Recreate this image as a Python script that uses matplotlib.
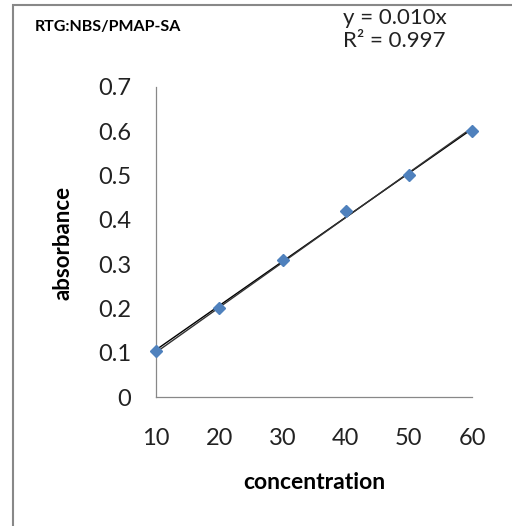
import matplotlib

matplotlib.use("Agg")

import matplotlib.pyplot as plt
import numpy as np
from matplotlib.patches import Rectangle


concentration = np.array([10, 20, 30, 40, 50, 60])
absorbance = np.array([0.105, 0.20, 0.31, 0.42, 0.50, 0.60])
x_ticks = [10, 20, 30, 40, 50, 60]
y_ticks = [0, 0.1, 0.2, 0.3, 0.4, 0.5, 0.6, 0.7]
y_tick_labels = ["0", "0.1", "0.2", "0.3", "0.4", "0.5", "0.6", "0.7"]

plt.rcParams["font.family"] = ["Lato", "DejaVu Sans"]

fig = plt.figure(figsize=(5.12, 5.26), dpi=100)
ax = fig.add_axes([0.305, 0.245, 0.617, 0.590])

# trendlines: free fit and forced through origin
slope, intercept = np.polyfit(concentration, absorbance, 1)
slope0 = np.sum(concentration * absorbance) / np.sum(concentration ** 2)
ax.plot(concentration, slope * concentration + intercept,
        color="black", linewidth=1.0, zorder=2)
ax.plot(concentration, slope0 * concentration,
        color="#333333", linewidth=1.0, zorder=2)

ax.plot(concentration, absorbance, linestyle="none", marker="D",
        markersize=6.5, color="#4F81BD", zorder=3, clip_on=False)

ax.set_xlim(10, 60)
ax.set_ylim(0, 0.7)
ax.set_xticks(x_ticks)
ax.set_yticks(y_ticks)
ax.set_yticklabels(y_tick_labels)
ax.tick_params(axis="both", length=0, labelsize=17, colors="#222222")
ax.tick_params(axis="y", pad=18)
ax.tick_params(axis="x", pad=22)

for side in ("top", "right"):
    ax.spines[side].set_visible(False)
for side in ("left", "bottom"):
    ax.spines[side].set_color("#888888")
    ax.spines[side].set_linewidth(0.9)

fig.text(0.613, 0.082, "concentration", ha="center", va="center",
         fontsize=16.5, fontweight="bold")
fig.text(0.123, 0.538, "absorbance", ha="center", va="center",
         rotation=90, fontsize=16, fontweight="bold")
fig.text(0.068, 0.948, "RTG:NBS/PMAP-SA", ha="left", va="center",
         fontsize=11.5, fontweight="bold")
fig.text(0.67, 0.966, "y = 0.010x", ha="left", va="center", fontsize=16,
         color="#222222")
fig.text(0.67, 0.922, "R² = 0.997", ha="left", va="center", fontsize=16,
         color="#222222")

fig.patches.append(Rectangle((13 / 512, -0.1), 1.2, 1 - 5 / 526 + 0.1,
                             transform=fig.transFigure, fill=False,
                             edgecolor="#888888", linewidth=1.5))

fig.savefig("out.png", dpi=100)
